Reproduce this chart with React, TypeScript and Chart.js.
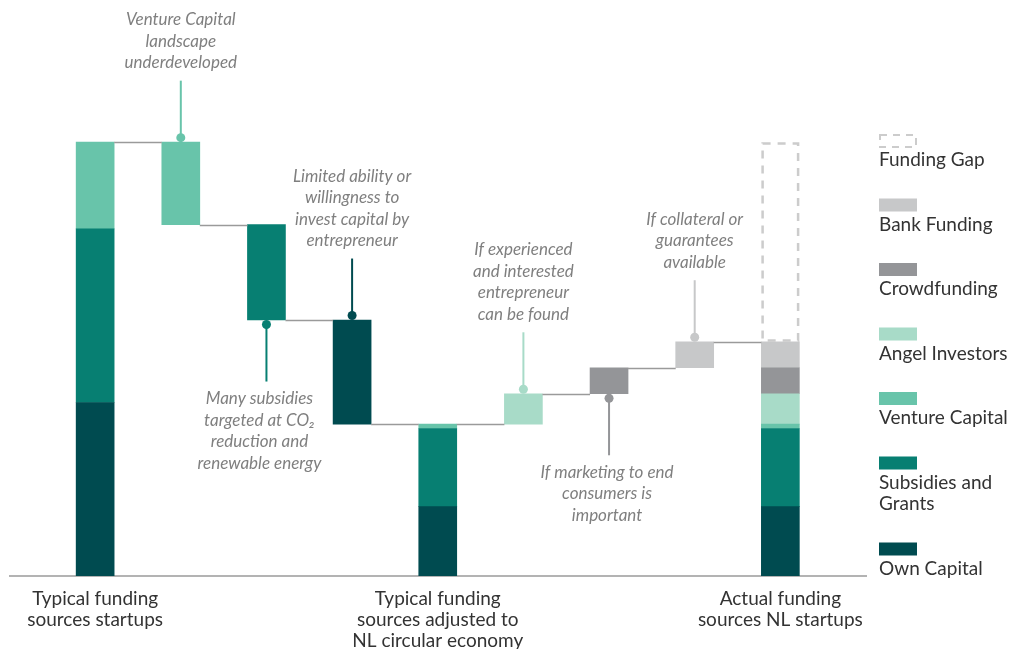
import React, { useEffect, useRef } from 'react';
import { Chart, registerables } from 'chart.js';

Chart.register(...registerables);

const FONT = 'Lato, "Noto Sans", sans-serif';

// ---------- data ----------
const categoryLabels: (string | string[])[] = [
  '',
  ['Typical funding', 'sources startups'],
  '', '', '',
  ['Typical funding', 'sources adjusted to', 'NL circular economy'],
  '', '', '',
  ['Actual funding', 'sources NL startups'],
  '',
];
// what each category column shows
const columnKinds = ['', 'total', 'step', 'step', 'step', 'subtotal', 'step', 'step', 'step', 'subtotal', ''];

const sourceNames = ['Own Capital', 'Subsidies and Grants', 'Venture Capital', 'Angel Investors', 'Crowdfunding', 'Bank Funding'];
const sourceColors = ['#004b50', '#077f72', '#68c4aa', '#a8dbc8', '#949598', '#c7c8c9'];
const typicalStartupMix = [40, 40, 20, 0, 0, 0];
const stepSources = [2, 1, 0, 3, 4, 5];
const stepChanges = [-19, -22, -24, 7, 6, 6];
const fundingGapLabel = 'Funding Gap';
const fundingGapColor = '#cccccc';

const annotationTexts = [
  ['Venture Capital', 'landscape', 'underdeveloped'],
  ['Many subsidies', 'targeted at CO\u2082', 'reduction and', 'renewable energy'],
  ['Limited ability or', 'willingness to', 'invest capital by', 'entrepreneur'],
  ['If experienced', 'and interested', 'entrepreneur', 'can be found'],
  ['If marketing to end', 'consumers is', 'important'],
  ['If collateral or', 'guarantees', 'available'],
];
const annotationSides = ['above', 'below', 'above', 'above', 'below', 'above'];
const annotationTextShift = [0, -7, 0, 0, -2, 0];

// ---------- build datasets ----------
function buildData() {
  const n = categoryLabels.length;
  const datasets: any[] = sourceNames.map((name, s) => ({
    label: name,
    data: new Array(n).fill(null),
    backgroundColor: sourceColors[s],
    borderWidth: 0,
    grouped: false,
    barThickness: 38,
  }));
  const gap: any = {
    label: fundingGapLabel,
    data: new Array(n).fill(null),
    backgroundColor: 'rgba(0,0,0,0)',
    borderWidth: 0,
    grouped: false,
    barThickness: 38,
    isGap: true,
  };
  const mix = typicalStartupMix.slice();
  const total = mix.reduce((a, b) => a + b, 0);
  let level = total;
  const levels: number[] = new Array(n).fill(null);
  const stepCols: number[] = [];
  let stepIdx = 0;
  const stack = (col: number) => {
    let base = 0;
    mix.forEach((v, s) => {
      if (v > 0) {
        datasets[s].data[col] = [base, base + v];
        base += v;
      }
    });
  };
  columnKinds.forEach((kind, col) => {
    if (kind === 'total' || kind === 'subtotal') {
      stack(col);
      levels[col] = level;
    } else if (kind === 'step') {
      const s = stepSources[stepIdx];
      const d = stepChanges[stepIdx];
      const next = level + d;
      datasets[s].data[col] = [Math.min(level, next), Math.max(level, next)];
      mix[s] += d;
      level = next;
      levels[col] = level;
      stepCols.push(col);
      stepIdx++;
    }
  });
  const lastCol = columnKinds.lastIndexOf('subtotal');
  gap.data[lastCol] = [level, total];
  datasets.push(gap);
  return { datasets, levels, stepCols };
}

// ---------- plugin ----------
const waterfallPlugin = {
  id: 'waterfallExtras',
  afterDatasetsDraw(chart: any, _args: any, opts: any) {
    const ctx = chart.ctx;
    const { levels, stepCols } = opts;
    const y = chart.scales.y;
    const n = categoryLabels.length;
    const barAt = (col: number) => {
      for (let d = 0; d < chart.data.datasets.length; d++) {
        const v = chart.data.datasets[d].data[col];
        if (v) return chart.getDatasetMeta(d).data[col];
      }
      return null;
    };
    ctx.save();
    // connectors
    ctx.strokeStyle = '#9a9a9a';
    ctx.lineWidth = 1.5;
    for (let c = 0; c < n - 1; c++) {
      if (levels[c] == null || levels[c + 1] == null) continue;
      const a = barAt(c), b = barAt(c + 1);
      if (!a || !b) continue;
      const py = Math.round(y.getPixelForValue(levels[c])) + 0.5;
      ctx.beginPath();
      ctx.moveTo(a.x + a.width / 2, py);
      ctx.lineTo(b.x - b.width / 2, py);
      ctx.stroke();
    }
    // funding gap dashed box
    chart.data.datasets.forEach((ds: any, d: number) => {
      if (!ds.isGap) return;
      chart.getDatasetMeta(d).data.forEach((el: any, i: number) => {
        if (!ds.data[i]) return;
        const top = Math.min(el.y, el.base), bot = Math.max(el.y, el.base);
        ctx.setLineDash([8, 7]);
        ctx.strokeStyle = fundingGapColor;
        ctx.lineWidth = 2.5;
        ctx.strokeRect(el.x - el.width / 2 + 1.25, top + 1.25, el.width - 2.5, bot - top - 2.5);
        ctx.setLineDash([]);
      });
    });
    // annotations
    ctx.font = `italic 17px ${FONT}`;
    ctx.textAlign = 'center';
    ctx.textBaseline = 'middle';
    stepCols.forEach((col: number, i: number) => {
      const s = stepSources[i];
      const el = chart.getDatasetMeta(s).data[col];
      const top = Math.min(el.y, el.base), bot = Math.max(el.y, el.base);
      const color = sourceColors[s];
      const lines = annotationTexts[i];
      const lh = 21.5;
      let dotY: number, lineEnd: number;
      if (annotationSides[i] === 'above') {
        dotY = top - 4.5;
        lineEnd = dotY - 57;
      } else {
        dotY = bot + 4.5;
        lineEnd = dotY + 57;
      }
      ctx.strokeStyle = color;
      ctx.fillStyle = color;
      ctx.lineWidth = 2;
      ctx.beginPath();
      ctx.moveTo(el.x, dotY);
      ctx.lineTo(el.x, lineEnd);
      ctx.stroke();
      ctx.beginPath();
      ctx.arc(el.x, dotY, 4.5, 0, Math.PI * 2);
      ctx.fill();
      ctx.fillStyle = '#7f7f7f';
      const tx = el.x + annotationTextShift[i];
      lines.forEach((t, k) => {
        const ty = annotationSides[i] === 'above'
          ? lineEnd - 18 - (lines.length - 1 - k) * lh
          : lineEnd + 17 + k * lh;
        ctx.fillText(t, tx, ty);
      });
    });
    // legend (right side)
    const lx = 879;
    const maxW = chart.width - lx - 1;
    ctx.font = `19px ${FONT}`;
    ctx.textAlign = 'left';
    ctx.textBaseline = 'middle';
    let sy = 134;
    const items = chart.data.datasets.slice().reverse();
    items.forEach((ds: any) => {
      if (ds.isGap) {
        ctx.setLineDash([7, 6]);
        ctx.strokeStyle = fundingGapColor;
        ctx.lineWidth = 2;
        ctx.strokeRect(lx + 1, sy + 1, 36, 12);
        ctx.setLineDash([]);
      } else {
        ctx.fillStyle = ds.backgroundColor;
        ctx.fillRect(lx, sy, 38, 13);
      }
      const words = ds.label.split(' ');
      const wrapped: string[] = [];
      let cur = '';
      words.forEach((w: string) => {
        const t = cur ? cur + ' ' + w : w;
        if (ctx.measureText(t).width > maxW && cur) {
          wrapped.push(cur);
          cur = w;
        } else cur = t;
      });
      wrapped.push(cur);
      ctx.fillStyle = '#333333';
      wrapped.forEach((t, k) => ctx.fillText(t, lx, sy + 26 + k * 21.5));
      sy += 64.5 + (wrapped.length - 1) * 21.5;
    });
    ctx.restore();
  },
};

export default function App() {
  const ref = useRef<HTMLCanvasElement>(null);
  useEffect(() => {
    if (!ref.current) return;
    const { datasets, levels, stepCols } = buildData();
    const chart = new Chart(ref.current, {
      type: 'bar',
      data: { labels: categoryLabels as any, datasets },
      options: {
        animation: false,
        responsive: false,
        devicePixelRatio: 1,
        layout: { padding: { left: 9.5, right: 147, top: 12, bottom: 0 } },
        plugins: {
          legend: { display: false },
          tooltip: { enabled: false },
          waterfallExtras: { levels, stepCols },
        } as any,
        scales: {
          x: {
            type: 'category',
            offset: false,
            grid: { display: false, drawTicks: false },
            border: { display: true, color: '#b3b3b3', width: 2 },
            ticks: {
              autoSkip: false,
              maxRotation: 0,
              minRotation: 0,
              padding: 12,
              color: '#333333',
              font: { family: FONT, size: 19, lineHeight: 1.11 },
            },
            afterFit: (scale: any) => {
              scale.height = 73;
              scale.paddingLeft = 0;
              scale.paddingRight = 0;
            },
          },
          y: { display: false, min: 0, max: 130 },
        },
      },
      plugins: [waterfallPlugin],
    });
    return () => chart.destroy();
  }, []);
  return (
    <div style={{ position: 'fixed', left: 0, top: 0, width: 1013, height: 649, background: '#fff' }}>
      <canvas ref={ref} width={1013} height={649} style={{ display: 'block' }} />
    </div>
  );
}
